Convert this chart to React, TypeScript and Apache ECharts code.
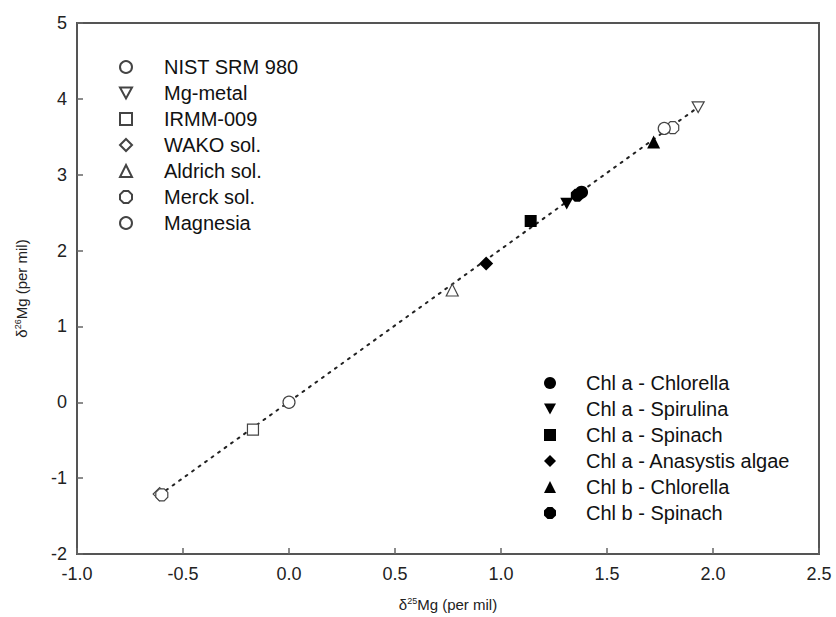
import React, { useEffect, useRef } from "react";
import * as echarts from "echarts";

// Reference materials (open symbols)
const openNames = ["NIST SRM 980", "Mg-metal", "IRMM-009", "WAKO sol.", "Aldrich sol.", "Merck sol.", "Magnesia"];
const nistX = [0.0];
const nistY = [0.0];
const mgMetalX = [1.93];
const mgMetalY = [3.89];
const irmmX = [-0.17];
const irmmY = [-0.36];
const wakoX = [-0.61];
const wakoY = [-1.21];
const aldrichX = [0.77];
const aldrichY = [1.48];
const merckX = [-0.6, 1.81];
const merckY = [-1.22, 3.62];
const magnesiaX = [1.77];
const magnesiaY = [3.61];

// Chlorophyll samples (filled symbols)
const filledNames = [
  "Chl a - Chlorella",
  "Chl a - Spirulina",
  "Chl a - Spinach",
  "Chl a - Anasystis algae",
  "Chl b - Chlorella",
  "Chl b - Spinach",
];
const chlaChlorellaX = [1.38];
const chlaChlorellaY = [2.77];
const chlaSpirulinaX = [1.31];
const chlaSpirulinaY = [2.62];
const chlaSpinachX = [1.14];
const chlaSpinachY = [2.39];
const chlaAnasystisX = [0.93];
const chlaAnasystisY = [1.83];
const chlbChlorellaX = [1.72];
const chlbChlorellaY = [3.43];
const chlbSpinachX = [1.36];
const chlbSpinachY = [2.73];

// Fit line end points
const fitX = [-0.61, 1.93];
const fitY = [-1.22, 3.89];

const xTicks = [-1.0, -0.5, 0.0, 0.5, 1.0, 1.5, 2.0, 2.5];
const yTicks = [-2, -1, 0, 1, 2, 3, 4, 5];

const pts = (xs: number[], ys: number[]) => xs.map((x, i) => [x, ys[i]]);

const DOWN_TRI = "path://M0,0 L10,0 L5,9 Z";
const OCTAGON = "path://M3,0 L7,0 L10,3 L10,7 L7,10 L3,10 L0,7 L0,3 Z";

const FONT = "'Liberation Sans', Arial, Helvetica, sans-serif";

export default function App() {
  const ref = useRef<HTMLDivElement>(null);
  useEffect(() => {
    const chart = echarts.init(ref.current!, null, { renderer: "svg" });

    const openStyle = { color: "#ffffff", borderColor: "#444", borderWidth: 1.2, opacity: 1 };
    const filledStyle = { color: "#000000", borderColor: "#000", borderWidth: 0, opacity: 1 };

    const openDefs: [string, number[], number[], string, number][] = [
      [openNames[0], nistX, nistY, "circle", 12],
      [openNames[1], mgMetalX, mgMetalY, DOWN_TRI, 12],
      [openNames[2], irmmX, irmmY, "rect", 11],
      [openNames[3], wakoX, wakoY, "diamond", 13],
      [openNames[4], aldrichX, aldrichY, "triangle", 12],
      [openNames[5], merckX, merckY, OCTAGON, 12],
      [openNames[6], magnesiaX, magnesiaY, "circle", 12],
    ];
    const filledDefs: [string, number[], number[], string, number][] = [
      [filledNames[0], chlaChlorellaX, chlaChlorellaY, "circle", 13],
      [filledNames[1], chlaSpirulinaX, chlaSpirulinaY, DOWN_TRI, 13],
      [filledNames[2], chlaSpinachX, chlaSpinachY, "rect", 12],
      [filledNames[3], chlaAnasystisX, chlaAnasystisY, "diamond", 14],
      [filledNames[4], chlbChlorellaX, chlbChlorellaY, "triangle", 13],
      [filledNames[5], chlbSpinachX, chlbSpinachY, OCTAGON, 13],
    ];

    const series: any[] = [
      {
        type: "line",
        name: "fit",
        data: pts(fitX, fitY),
        symbol: "none",
        lineStyle: { type: [2, 6], width: 2, color: "#222", cap: "round" },
        z: 1,
        silent: true,
      },
      ...openDefs.map(([name, xs, ys, sym, size]) => ({
        type: "scatter",
        name,
        data: pts(xs, ys),
        symbol: sym,
        symbolSize: size,
        symbolKeepAspect: true,
        itemStyle: openStyle,
        z: 3,
      })),
      ...filledDefs.map(([name, xs, ys, sym, size]) => ({
        type: "scatter",
        name,
        data: pts(xs, ys),
        symbol: sym,
        symbolSize: size,
        symbolKeepAspect: true,
        itemStyle: filledStyle,
        z: 4,
      })),
    ];

    const axisNameRich = {
      d: { fontSize: 15, fontFamily: FONT, color: "#222", lineHeight: 17 },
      s: { fontSize: 9, fontFamily: FONT, color: "#222", lineHeight: 17, verticalAlign: "top" },
      m: { fontSize: 15, fontFamily: FONT, color: "#222", lineHeight: 17 },
    };

    const legendText = (pad: number) => ({
      fontSize: 20,
      lineHeight: 17,
      color: "#111",
      fontFamily: FONT,
      padding: [0, 0, 0, pad],
    });

    chart.setOption({
      animation: false,
      backgroundColor: "#ffffff",
      grid: {
        left: 77,
        top: 23,
        width: 742,
        height: 531,
        show: true,
        borderColor: "#555",
        borderWidth: 2,
        backgroundColor: "transparent",
      },
      legend: [
        {
          orient: "vertical",
          left: 119,
          top: 57,
          padding: 0,
          itemWidth: 12,
          itemHeight: 12,
          itemGap: 6,
          selectedMode: false,
          data: openNames,
          textStyle: legendText(27),
        },
        {
          orient: "vertical",
          left: 544,
          top: 373,
          padding: 0,
          itemWidth: 12,
          itemHeight: 12,
          itemGap: 6,
          selectedMode: false,
          data: filledNames,
          textStyle: legendText(25),
        },
      ],
      xAxis: {
        type: "value",
        min: xTicks[0],
        max: xTicks[xTicks.length - 1],
        interval: 0.5,
        name: "{d|δ}{s|25}{m|Mg (per mil)}",
        nameLocation: "middle",
        nameGap: 42,
        nameTextStyle: { rich: axisNameRich },
        axisLine: { show: true, onZero: false, lineStyle: { color: "#555", width: 2 } },
        axisTick: { show: true, inside: true, length: 6, lineStyle: { color: "#666", width: 1.5 } },
        axisLabel: {
          margin: 11,
          fontSize: 18,
          color: "#222",
          fontFamily: FONT,
          formatter: (v: number) => v.toFixed(1),
        },
        splitLine: { show: false },
      },
      yAxis: {
        type: "value",
        min: yTicks[0],
        max: yTicks[yTicks.length - 1],
        interval: 1,
        name: "{d|δ}{s|26}{m|Mg (per mil)}",
        nameLocation: "middle",
        nameGap: 47,
        nameRotate: 90,
        nameTextStyle: { rich: axisNameRich },
        axisLine: { show: true, onZero: false, lineStyle: { color: "#555", width: 2 } },
        axisTick: { show: true, inside: true, length: 6, lineStyle: { color: "#666", width: 1.5 } },
        axisLabel: {
          margin: 10,
          fontSize: 18,
          color: "#222",
          fontFamily: FONT,
          formatter: (v: number) => String(v),
        },
        splitLine: { show: false },
      },
      series,
    });
    return () => chart.dispose();
  }, []);

  return (
    <div
      ref={ref}
      style={{ position: "absolute", left: 0, top: 0, width: 836, height: 617, background: "#fff" }}
    />
  );
}
